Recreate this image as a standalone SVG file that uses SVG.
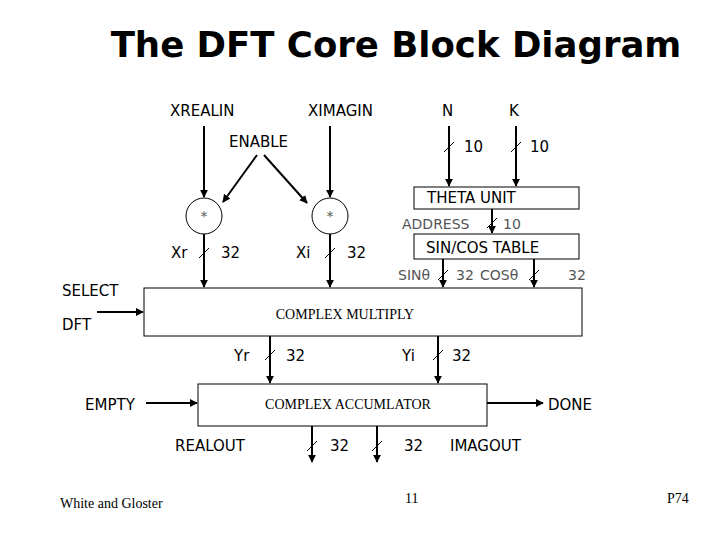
<svg xmlns="http://www.w3.org/2000/svg" width="720" height="540" viewBox="0 0 720 540">
<style>
.s{font-family:"DejaVu Sans",Verdana,sans-serif;font-size:15px;fill:#000}
.t{font-family:"DejaVu Sans",Verdana,sans-serif;font-size:14px;fill:#555}
.r{font-family:"Liberation Serif",serif;font-size:14px;fill:#000}
.w{stroke:#000;stroke-width:2;fill:none}
.k{stroke:#000;stroke-width:1;fill:none}
.b{stroke:#000;stroke-width:1;fill:#fff}
</style>
<defs><marker id="a" viewBox="0 0 10 10" refX="9" refY="5" markerWidth="4" markerHeight="4" orient="auto"><path d="M0,0L10,5L0,10z" fill="#000"/></marker></defs>
<rect width="720" height="540" fill="#fff"/>
<text x="396" y="57" text-anchor="middle" style="font-family:'DejaVu Sans',Verdana,sans-serif;font-size:35.5px;font-weight:bold">The DFT Core Block Diagram</text>
<g id="labels">
<text class="s" x="170" y="116">XREALIN</text>
<text class="s" x="308" y="116">XIMAGIN</text>
<text class="s" x="442" y="116">N</text>
<text class="s" x="509" y="116">K</text>
<text class="s" x="229" y="147">ENABLE</text>
<text class="s" x="464" y="152">10</text>
<text class="s" x="530" y="152">10</text>
<text class="s" x="171" y="258">Xr</text>
<text class="s" x="221" y="258">32</text>
<text class="s" x="296" y="258">Xi</text>
<text class="s" x="347" y="258">32</text>
<text class="t" x="402" y="229">ADDRESS</text>
<text class="t" x="503" y="229">10</text>
<text class="t" x="398" y="280">SINθ</text>
<text class="t" x="456" y="280">32</text>
<text class="t" x="480" y="280">COSθ</text>
<text class="t" x="568" y="280">32</text>
<text class="s" x="62" y="296">SELECT</text>
<text class="s" x="62" y="330">DFT</text>
<text class="s" x="234" y="361">Yr</text>
<text class="s" x="286" y="361">32</text>
<text class="s" x="402" y="361">Yi</text>
<text class="s" x="452" y="361">32</text>
<text class="s" x="85" y="410">EMPTY</text>
<text class="s" x="548" y="410">DONE</text>
<text class="s" x="175" y="451">REALOUT</text>
<text class="s" x="330" y="451">32</text>
<text class="s" x="404" y="451">32</text>
<text class="s" x="450" y="451">IMAGOUT</text>
<text class="r" x="60" y="508" style="font-size:14px">White and Gloster</text>
<text class="r" x="405" y="503" style="font-size:14px">11</text>
<text class="r" x="667" y="503" style="font-size:14px">P74</text>
</g>
<g id="mulr"><circle class="k" cx="204" cy="216" r="18"/><text class="t" x="204" y="221" text-anchor="middle" fill="#000">*</text></g>
<g id="muli"><circle class="k" cx="330" cy="216" r="18"/><text class="t" x="330" y="221" text-anchor="middle" fill="#000">*</text></g>
<g id="theta"><rect class="b" x="414" y="187" width="165" height="22"/><text class="s" x="427" y="203">THETA UNIT</text></g>
<g id="sincos"><rect class="b" x="414" y="234" width="165" height="25"/><text class="s" x="426" y="253">SIN/COS TABLE</text></g>
<g id="multiply"><rect class="b" x="144" y="288" width="438" height="48"/><text class="r" x="345" y="319" text-anchor="middle">COMPLEX MULTIPLY</text></g>
<g id="accum"><rect class="b" x="198" y="384" width="289" height="42"/><text class="r" x="348" y="409" text-anchor="middle">COMPLEX ACCUMLATOR</text></g>
<g id="connectors">
<path class="w" marker-end="url(#a)" d="M204,126V197"/>
<path class="w" marker-end="url(#a)" d="M330,126V197"/>
<path class="w" marker-end="url(#a)" d="M257,155L223,202"/>
<path class="w" marker-end="url(#a)" d="M264,155L307,203"/>
<path class="w" marker-end="url(#a)" d="M449,126V186"/>
<path class="w" marker-end="url(#a)" d="M516,126V186"/>
<path class="w" marker-end="url(#a)" d="M492,209V233"/>
<path class="w" marker-end="url(#a)" d="M204,234V287"/>
<path class="w" marker-end="url(#a)" d="M330,234V287"/>
<path class="w" marker-end="url(#a)" d="M443,259V287"/>
<path class="w" marker-end="url(#a)" d="M534,259V287"/>
<path class="w" marker-end="url(#a)" d="M97,312H143"/>
<path class="w" marker-end="url(#a)" d="M270,336V383"/>
<path class="w" marker-end="url(#a)" d="M438,336V383"/>
<path class="w" marker-end="url(#a)" d="M146,403H197"/>
<path class="w" marker-end="url(#a)" d="M487,403H543"/>
<path class="w" marker-end="url(#a)" d="M312,426V462"/>
<path class="w" marker-end="url(#a)" d="M377,426V462"/>
<path class="k" d="M444,152l10,-10M511,152l10,-10M487,228l10,-10M199,258l10,-10M325,258l10,-10M438,280l10,-10M529,280l10,-10M265,360l10,-10M433,360l10,-10M307,451l10,-10M372,451l10,-10"/>
</g>
</svg>
